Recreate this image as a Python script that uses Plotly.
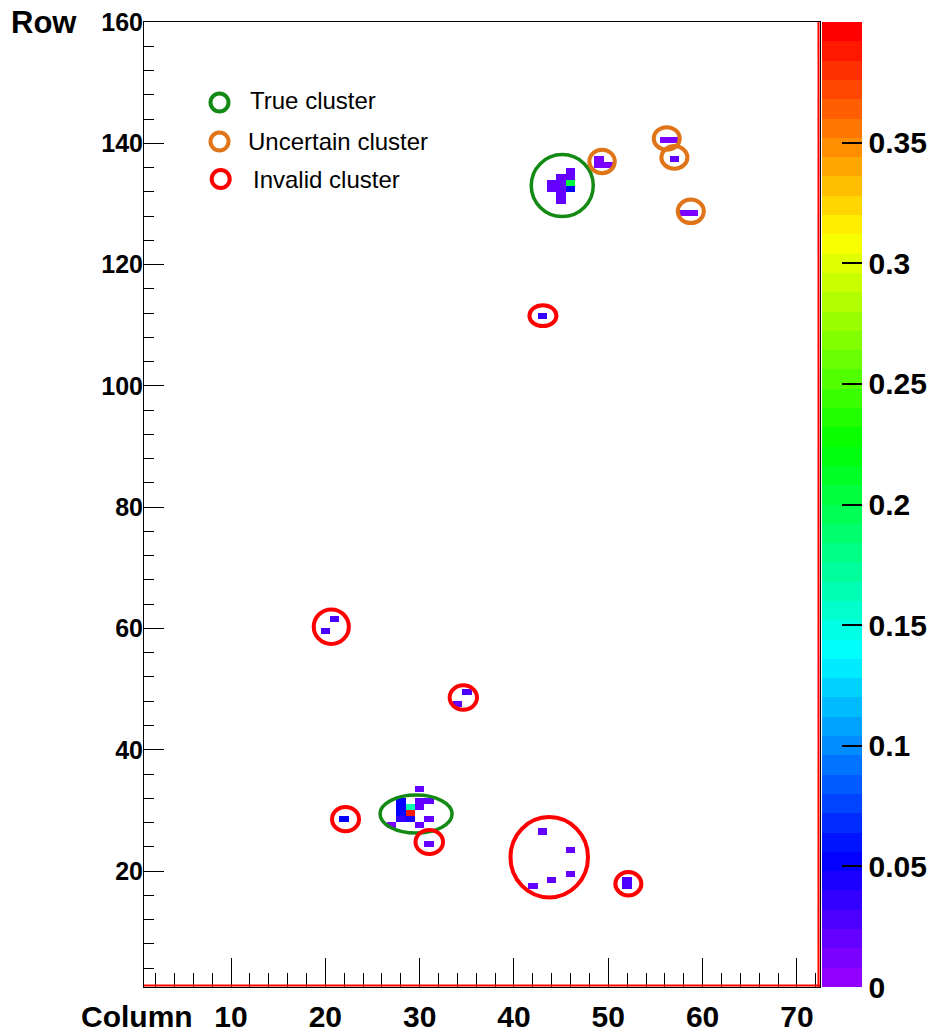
import colorsys
import plotly.graph_objects as go

# ---------------- data ----------------
n_cols = 72
n_rows = 160

# fired pixels: column, row, charge value
hit_cols = [30, 28, 30, 31, 28, 29, 30, 28, 29, 28, 29, 31, 27, 30, 31,
            22,
            46, 45, 46, 44, 45, 46, 44, 45, 46, 45, 45,
            49, 49, 50, 56, 57, 57, 58, 59,
            43, 21, 20, 35, 34,
            43, 46, 46, 44, 42,
            52, 52]
hit_rows = [33, 31, 31, 31, 30, 30, 30, 29, 29, 28, 28, 28, 27, 27, 24,
            28,
            135, 134, 134, 133, 133, 133, 132, 132, 132, 131, 130,
            137, 136, 136, 140, 140, 137, 128, 128,
            111, 61, 59, 49, 47,
            26, 23, 19, 18, 17,
            17, 18]
hit_vals = [0.018, 0.05, 0.018, 0.018, 0.05, 0.165, 0.018, 0.05, 0.39, 0.04, 0.045, 0.018, 0.015, 0.018, 0.018,
            0.055,
            0.018, 0.018, 0.018, 0.018, 0.018, 0.2, 0.018, 0.018, 0.05, 0.018, 0.018,
            0.015, 0.015, 0.015, 0.015, 0.015, 0.018, 0.015, 0.015,
            0.033, 0.03, 0.03, 0.03, 0.02,
            0.022, 0.022, 0.022, 0.022, 0.022,
            0.025, 0.025]

# cluster markers: kind, centre (column, row), half-axes (columns, rows)
circle_kind = ["True", "True",
               "Uncertain", "Uncertain", "Uncertain", "Uncertain",
               "Invalid", "Invalid", "Invalid", "Invalid", "Invalid", "Invalid", "Invalid"]
circle_cx = [45.12, 29.62,
             49.34, 56.2, 57.01, 58.75,
             43.07, 20.63, 34.63, 22.14, 31.02, 43.74, 52.13]
circle_cy = [133.05, 29.4,
             137.03, 140.83, 137.7, 128.81,
             111.6, 60.29, 48.61, 28.55, 24.79, 22.28, 17.91]
circle_rx = [3.29, 3.82,
             1.35, 1.38, 1.38, 1.38,
             1.43, 1.86, 1.45, 1.43, 1.46, 4.11, 1.38]
circle_ry = [5.11, 3.13,
             1.95, 1.86, 1.86, 1.95,
             1.73, 2.85, 2.01, 2.01, 1.98, 6.63, 1.93]

legend_kinds = ["True", "Uncertain", "Invalid"]
legend_labels = ["True cluster", "Uncertain cluster", "Invalid cluster"]

x_ticks = [10, 20, 30, 40, 50, 60, 70]
y_ticks = [20, 40, 60, 80, 100, 120, 140, 160]
cbar_ticks = [0, 0.05, 0.1, 0.15, 0.2, 0.25, 0.3, 0.35]
cbar_labels = ["0", "0.05", "0.1", "0.15", "0.2", "0.25", "0.3", "0.35"]
z_max = 0.4

# ---------------- styles ----------------
kind_color = {"True": "#138a13", "Uncertain": "#e07418", "Invalid": "#ff0000"}
kind_width = {"True": 3.5, "Uncertain": 4, "Invalid": 4}
FONT = "Liberation Sans, Arial, sans-serif"

W, H = 933, 1034
L, R, T, B = 144, 113, 22, 47
PW, PH = W - L - R, H - T - B

# ROOT "pretty" palette: 50 bands, hue 280 -> 0
n_bands = 50
colorscale = []
for i in range(n_bands):
    hue = (280 - (i + 1) * 280 / n_bands) / 360
    r, g, b = colorsys.hls_to_rgb(hue, 0.5, 1.0)
    c = f"rgb({round(r*255)},{round(g*255)},{round(b*255)})"
    colorscale.append([i / n_bands, c])
    colorscale.append([(i + 1) / n_bands, c])

# grid
z = [[None] * n_cols for _ in range(n_rows)]
for c, rr, v in zip(hit_cols, hit_rows, hit_vals):
    z[rr][c - 1] = v
x_edges = [k + 0.5 for k in range(n_cols + 1)]
y_edges = list(range(n_rows + 1))

fig = go.Figure()
fig.add_trace(go.Heatmap(
    z=z, x=x_edges, y=y_edges, zmin=0, zmax=z_max,
    colorscale=colorscale, hoverinfo="skip", zsmooth=False,
    colorbar=dict(
        thickness=40, thicknessmode="pixels",
        len=1, lenmode="fraction", y=0, yanchor="bottom", ypad=0,
        x=1 + 2 / PW, xanchor="left", xpad=0,
        outlinewidth=0,
        tickmode="array", tickvals=cbar_ticks, ticktext=cbar_labels,
        ticks="inside", ticklen=20, tickwidth=1.5, tickcolor="black",
        tickfont=dict(family=FONT, size=30, color="black", weight="bold"),
    ),
))

shapes = []
for k, cx, cy, rx, ry in zip(circle_kind, circle_cx, circle_cy, circle_rx, circle_ry):
    shapes.append(dict(type="circle", xref="x", yref="y",
                       x0=cx - rx, x1=cx + rx, y0=cy - ry, y1=cy + ry,
                       line=dict(color=kind_color[k], width=kind_width[k])))

# red border lines of the histogram box (bottom and right)
shapes.append(dict(type="line", xref="paper", yref="paper", x0=0, x1=1,
                   y0=1.5 / PH, y1=1.5 / PH, line=dict(color="red", width=2)))
shapes.append(dict(type="line", xref="paper", yref="paper", x0=1 - 1.5 / PW, x1=1 - 1.5 / PW,
                   y0=0, y1=1, line=dict(color="red", width=2)))

annotations = []
# legend (drawn inside the frame)
leg_px = [(219.5, 102.5, 248, 100.5), (219.5, 141.5, 246, 141.5), (220.7, 179.0, 251, 179.5)]
for (cxp, cyp, txp, typ), k, lab in zip(leg_px, legend_kinds, legend_labels):
    r_px = 9
    shapes.append(dict(type="circle", xref="paper", yref="paper",
                       x0=(cxp - r_px - L) / PW, x1=(cxp + r_px - L) / PW,
                       y0=(H - B - cyp - r_px) / PH, y1=(H - B - cyp + r_px) / PH,
                       line=dict(color=kind_color[k], width=4)))
    annotations.append(dict(text=lab, xref="paper", yref="paper",
                            x=(txp - L) / PW, y=(H - B - typ) / PH,
                            xanchor="left", yanchor="middle", showarrow=False,
                            font=dict(family=FONT, size=24, color="black")))

annotations.append(dict(text="Row", xref="paper", yref="paper",
                        x=(79 - L) / PW, y=1.0, xanchor="right", yanchor="middle",
                        showarrow=False,
                        font=dict(family=FONT, size=31, color="black", weight="bold")))
annotations.append(dict(text="Column", xref="paper", yref="paper",
                        x=(195 - L) / PW, y=(H - B - 1016) / PH, xanchor="right", yanchor="middle",
                        showarrow=False,
                        font=dict(family=FONT, size=30, color="black", weight="bold")))

fig.update_layout(
    width=W, height=H,
    margin=dict(l=L, r=R, t=T, b=B, pad=0, autoexpand=False),
    paper_bgcolor="white", plot_bgcolor="white",
    shapes=shapes, annotations=annotations, showlegend=False,
    xaxis=dict(range=[0.77, 72.45], tickmode="array", tickvals=x_ticks, automargin=False,
               ticks="inside", ticklen=29, tickwidth=1, tickcolor="black",
               showline=True, linecolor="black", linewidth=1, mirror=True,
               showgrid=False, zeroline=False, ticklabelstandoff=3,
               tickfont=dict(family=FONT, size=30, color="black", weight="bold"),
               minor=dict(tickmode="linear", tick0=0, dtick=2, ticks="inside", ticklen=14,
                          tickwidth=1, tickcolor="black", showgrid=False)),
    yaxis=dict(range=[0.87, 160.03], tickmode="array", tickvals=y_ticks, automargin=False,
               ticks="inside", ticklen=20, tickwidth=1, tickcolor="black",
               showline=True, linecolor="black", linewidth=1, mirror=True,
               showgrid=False, zeroline=False, ticklabelstandoff=-5,
               tickfont=dict(family=FONT, size=25, color="black", weight="bold"),
               minor=dict(tickmode="linear", tick0=0, dtick=4, ticks="inside", ticklen=10,
                          tickwidth=1, tickcolor="black", showgrid=False)),
)

fig.write_html("out.html")
